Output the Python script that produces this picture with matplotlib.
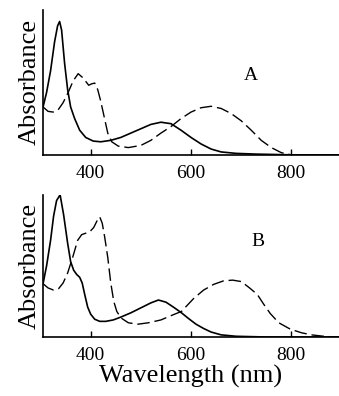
import matplotlib
matplotlib.use("Agg")
import matplotlib.pyplot as plt

plt.rcParams['font.family'] = ['Liberation Serif', 'DejaVu Serif']

# Panel A spectra (wavelength nm, relative absorbance)
wl_a_solid = [305, 312, 320, 328, 334, 338, 342, 348, 354, 360, 368, 378, 390, 405, 420,
              440, 460, 480, 500, 520, 540, 560, 580, 600, 620, 640, 660, 690, 730, 800, 895]
ab_a_solid = [0.33, 0.43, 0.58, 0.78, 0.89, 0.92, 0.86, 0.63, 0.45, 0.33, 0.25, 0.17, 0.12, 0.095, 0.09,
              0.10, 0.12, 0.15, 0.18, 0.21, 0.225, 0.215, 0.17, 0.12, 0.075, 0.04, 0.02, 0.01, 0.005, 0.0, 0.0]

wl_a_dash = [305, 315, 325, 335, 345, 355, 365, 375, 385, 396, 402, 408, 414, 420, 427, 434, 442,
             455, 475, 500, 520, 540, 560, 580, 600, 620, 640, 660, 680, 700, 720, 740, 760, 780, 800, 895]
ab_a_dash = [0.33, 0.30, 0.295, 0.31, 0.36, 0.43, 0.51, 0.56, 0.53, 0.48, 0.49, 0.495, 0.45, 0.37, 0.26, 0.15, 0.09,
             0.06, 0.05, 0.065, 0.10, 0.15, 0.195, 0.25, 0.295, 0.325, 0.335, 0.32, 0.285, 0.235, 0.17, 0.10, 0.05, 0.015, 0.0, 0.0]

# Panel B spectra
wl_b_solid = [305, 312, 320, 326, 332, 339, 346, 354, 360, 366, 372, 378, 383, 388, 394, 400, 408, 418,
              430, 445, 460, 480, 500, 520, 535, 550, 565, 581, 595, 610, 625, 640, 660, 690, 750, 895]
ab_b_solid = [0.375, 0.50, 0.68, 0.85, 0.96, 1.0, 0.86, 0.66, 0.53, 0.47, 0.44, 0.42, 0.38, 0.30, 0.21, 0.16, 0.125, 0.11,
              0.11, 0.12, 0.14, 0.17, 0.205, 0.24, 0.26, 0.245, 0.21, 0.17, 0.13, 0.09, 0.06, 0.035, 0.015, 0.005, 0.0, 0.0]

wl_b_dash = [305, 315, 326, 336, 345, 354, 364, 374, 382, 390, 398, 406, 413, 418, 423, 428, 434, 440,
             446, 452, 460, 475, 494, 515, 540, 560, 581, 605, 625, 645, 665, 683, 700, 715, 732, 745,
             758, 775, 798, 820, 840, 870, 895]
ab_b_dash = [0.375, 0.345, 0.33, 0.34, 0.38, 0.45, 0.56, 0.68, 0.72, 0.73, 0.74, 0.77, 0.82, 0.845, 0.80, 0.70, 0.56, 0.38,
             0.25, 0.18, 0.135, 0.10, 0.09, 0.10, 0.12, 0.15, 0.18, 0.27, 0.33, 0.37, 0.395, 0.40, 0.39, 0.35, 0.30, 0.23,
             0.165, 0.10, 0.055, 0.03, 0.015, 0.003, 0.0]

xticks = [400, 600, 800]
panels = [
    ("A", wl_a_solid, ab_a_solid, wl_a_dash, ab_a_dash, (720, 0.55)),
    ("B", wl_b_solid, ab_b_solid, wl_b_dash, ab_b_dash, (733, 0.67)),
]

fig = plt.figure(figsize=(3.39, 3.96), dpi=100)
boxes = [[0.127, 0.609, 0.873, 0.366], [0.127, 0.149, 0.873, 0.359]]

for box, (name, ws, ys, wd, yd, lab) in zip(boxes, panels):
    ax = fig.add_axes(box)
    ax.plot(ws, ys, color='black', lw=1.2)
    line, = ax.plot(wd, yd, color='black', lw=1.0)
    line.set_dashes((9, 3.5))
    ax.set_xlim(305, 895)
    ax.set_ylim(0, 1.0)
    ax.set_xticks(xticks)
    ax.set_yticks([])
    ax.tick_params(axis='x', direction='in', length=4, width=1, pad=7, labelsize=14)
    for s in ['top', 'right']:
        ax.spines[s].set_visible(False)
    for s in ['left', 'bottom']:
        ax.spines[s].set_linewidth(1.2)
    ax.set_ylabel("Absorbance", fontsize=19, labelpad=2)
    ax.text(lab[0], lab[1], name, fontsize=14, ha='center', va='center')
    if name == "B":
        ax.set_xlabel("Wavelength (nm)", fontsize=19, labelpad=1)

fig.savefig("out.png", dpi=100)
